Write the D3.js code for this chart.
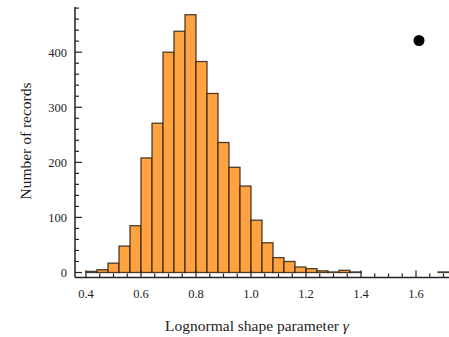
<!DOCTYPE html>
<html>
<head>
<meta charset="utf-8">
<script src="https://cdn.jsdelivr.net/npm/d3@7"></script>
<style>
  html, body { margin: 0; padding: 0; background: #fff; }
  svg { display: block; }
  text { font-family: "Liberation Serif", "DejaVu Serif", serif; fill: #1e1e1e; }
</style>
</head>
<body>
<svg id="chart" width="449" height="337"></svg>
<script>
// Histogram of the lognormal shape parameter, bins of width 0.04
const binStarts = [0.40, 0.44, 0.48, 0.52, 0.56, 0.60, 0.64, 0.68, 0.72, 0.76,
                   0.80, 0.84, 0.88, 0.92, 0.96, 1.00, 1.04, 1.08, 1.12, 1.16,
                   1.20, 1.24, 1.28, 1.32, 1.36, 1.68];
const counts    = [2, 5, 17, 48, 85, 208, 271, 400, 438, 468,
                   383, 325, 236, 191, 157, 95, 54, 27, 20, 10,
                   7, 3, 1, 4, 1, 1];
const binWidth = 0.04;
const xTicks = [0.4, 0.6, 0.8, 1.0, 1.2, 1.4, 1.6];
const yTicks = [0, 100, 200, 300, 400];

const svg = d3.select("#chart");

const x = d3.scaleLinear().domain([0.36, 1.72]).range([75, 449]);
const y = d3.scaleLinear().domain([0, 482]).range([272.5, 7]);
const axisY = 277.5;   // x-axis line sits just below the zero level

// bars
svg.append("g").selectAll("rect")
  .data(binStarts.map((s, i) => ({ s, c: counts[i] })))
  .join("rect")
  .attr("x", d => x(d.s))
  .attr("y", d => y(d.c))
  .attr("width", d => x(d.s + binWidth) - x(d.s))
  .attr("height", d => y(0) - y(d.c))
  .attr("fill", "#FFA23F")
  .attr("stroke", "#2e2216")
  .attr("stroke-opacity", 0.85)
  .attr("stroke-width", 1.3);

// y axis: line with inward ticks
const gy = svg.append("g");
gy.append("line").attr("x1", 75).attr("x2", 75).attr("y1", 7).attr("y2", axisY)
  .attr("stroke", "#222").attr("stroke-width", 1.5);
gy.selectAll("line.minor").data(d3.range(0, 481, 20)).join("line")
  .attr("class", "minor")
  .attr("x1", 75).attr("x2", d => 75 + (d % 100 === 0 ? 7 : 4))
  .attr("y1", d => y(d)).attr("y2", d => y(d))
  .attr("stroke", "#222").attr("stroke-width", 1.2);
gy.selectAll("text").data(yTicks).join("text")
  .attr("x", 67).attr("y", d => y(d)).attr("dy", "0.35em")
  .attr("text-anchor", "end").attr("font-size", 12.5)
  .text(d => d);

// x axis: line with inward ticks
const gx = svg.append("g");
gx.append("line").attr("x1", 75).attr("x2", 449).attr("y1", axisY).attr("y2", axisY)
  .attr("stroke", "#222").attr("stroke-width", 1.5);
gx.selectAll("line.minor").data(d3.range(8, 35).map(i => i * 0.05)).join("line")
  .attr("class", "minor")
  .attr("x1", d => x(d)).attr("x2", d => x(d))
  .attr("y1", axisY)
  .attr("y2", d => axisY - (Math.abs(d * 5 - Math.round(d * 5)) < 1e-6 ? 7 : 4))
  .attr("stroke", "#222").attr("stroke-width", 1.2);
gx.selectAll("text").data(xTicks).join("text")
  .attr("x", d => x(d)).attr("y", 294).attr("dy", "0.35em")
  .attr("text-anchor", "middle").attr("font-size", 12.5)
  .text(d => d3.format(".1f")(d));

// axis titles
svg.append("text")
  .attr("transform", "translate(26,141) rotate(-90)")
  .attr("text-anchor", "middle").attr("dy", "0.35em").attr("font-size", 15.5)
  .text("Number of records");

const xt = svg.append("text")
  .attr("x", 257).attr("y", 326).attr("dy", "0.35em")
  .attr("text-anchor", "middle").attr("font-size", 15.5);
xt.append("tspan").text("Lognormal shape parameter ");
xt.append("tspan").attr("font-style", "italic").text("γ");

// marker dot
svg.append("circle").attr("cx", x(1.6) + 3).attr("cy", 40.5).attr("r", 5.5).attr("fill", "#000");
</script>
</body>
</html>
